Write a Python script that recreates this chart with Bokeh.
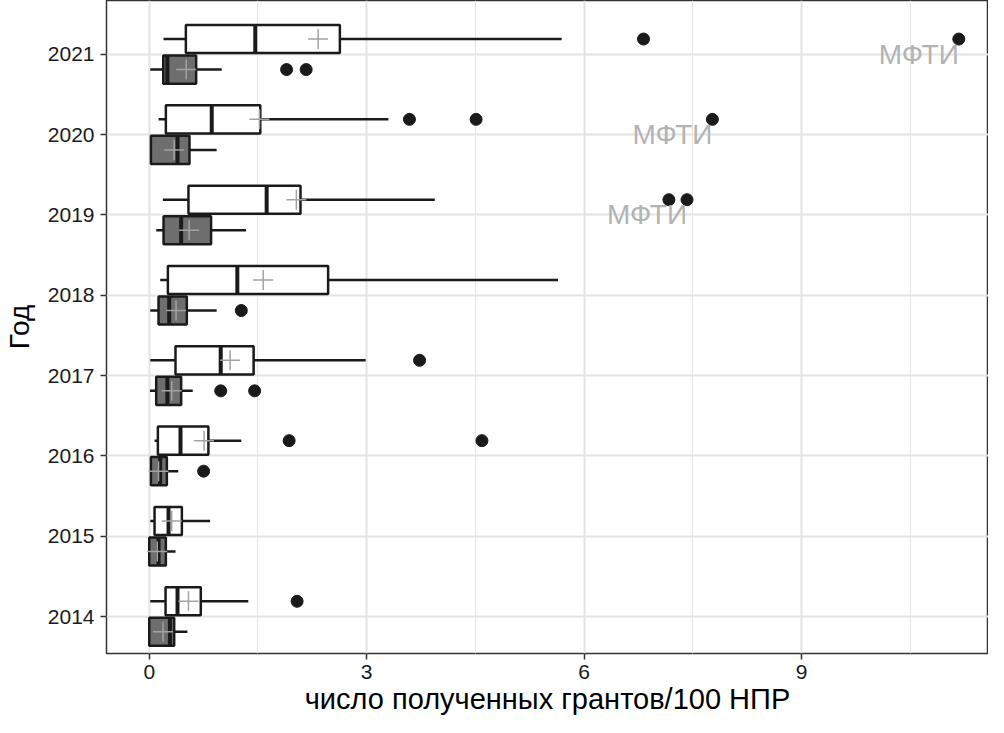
from bokeh.plotting import figure
from bokeh.models import ColumnDataSource, FixedTicker, Range1d
from bokeh.transform import dodge
from bokeh.core.properties import value
from bokeh.embed import file_html
from bokeh.resources import INLINE

years = [2014, 2015, 2016, 2017, 2018, 2019, 2020, 2021]

# group 1 (white boxes)
w_lo   = [0.014, 0.014, 0.073, 0.014, 0.151, 0.188, 0.128, 0.197]
w_q1   = [0.225, 0.073, 0.119, 0.362, 0.257, 0.541, 0.229, 0.505]
w_med  = [0.390, 0.266, 0.431, 0.986, 1.215, 1.620, 0.862, 1.463]
w_q3   = [0.711, 0.450, 0.816, 1.440, 2.468, 2.087, 1.532, 2.630]
w_hi   = [1.367, 0.840, 1.270, 2.986, 5.640, 3.940, 3.300, 5.690]
w_mean = [0.541, 0.310, 0.757, 1.115, 1.573, 2.030, 1.520, 2.330]

# group 2 (grey boxes)
g_lo   = [0.000, 0.000, 0.023, 0.010, 0.014, 0.096, 0.023, 0.014]
g_q1   = [0.000, 0.000, 0.023, 0.096, 0.128, 0.197, 0.023, 0.193]
g_med  = [0.285, 0.128, 0.150, 0.250, 0.275, 0.440, 0.390, 0.250]
g_q3   = [0.344, 0.229, 0.243, 0.440, 0.518, 0.853, 0.555, 0.647]
g_hi   = [0.527, 0.362, 0.400, 0.600, 0.930, 1.335, 0.930, 1.000]
g_mean = [0.190, 0.110, 0.128, 0.310, 0.370, 0.550, 0.344, 0.510]

# outliers
w_out_year = [2014, 2016, 2016, 2017, 2019, 2019, 2020, 2020, 2020, 2021, 2021]
w_out_val  = [2.04, 1.93, 4.59, 3.73, 7.17, 7.42, 3.59, 4.51, 7.77, 6.82, 11.17]
g_out_year = [2016, 2017, 2017, 2018, 2021, 2021]
g_out_val  = [0.75, 0.986, 1.454, 1.27, 1.895, 2.165]

# labels
lab_year = [2021, 2020, 2019]
lab_val  = [11.17, 7.77, 7.42]
lab_text = ["МФТИ", "МФТИ", "МФТИ"]

x_ticks = [0, 3, 6, 9]

FONT = "Liberation Sans"
OFF = 0.19
H = 0.35

p = figure(width=988, height=717, output_backend="svg", toolbar_location=None,
           x_range=Range1d(-0.59, 11.58), y_range=Range1d(2013.54, 2021.67),
           min_border_left=100, min_border_right=0, min_border_top=0,
           min_border_bottom=0)
p.background_fill_color = "white"
p.border_fill_color = "white"
p.outline_line_color = "#333333"
p.outline_line_width = 1.5

def draw(lo, q1, med, q3, hi, mean, off, fill):
    src = ColumnDataSource(dict(year=years, lo=lo, q1=q1, med=med, q3=q3,
                                hi=hi, mean=mean))
    yc = dodge("year", off, range=p.y_range)
    p.segment(x0="lo", x1="q1", y0=yc, y1=yc, source=src,
              line_color="#1a1a1a", line_width=2.5)
    p.segment(x0="q3", x1="hi", y0=yc, y1=yc, source=src,
              line_color="#1a1a1a", line_width=2.5)
    p.hbar(y=yc, height=H, left="q1", right="q3", source=src,
           fill_color=fill, line_color="#1a1a1a", line_width=2.5)
    p.segment(x0="med", x1="med", y0=dodge("year", off - H / 2, range=p.y_range),
              y1=dodge("year", off + H / 2, range=p.y_range), source=src,
              line_color="#1a1a1a", line_width=4)
    p.scatter(x="mean", y=yc, source=src, marker="cross", size=20,
              line_color="#a3a3a3", line_width=1.5)

draw(w_lo, w_q1, w_med, w_q3, w_hi, w_mean, OFF, "white")
draw(g_lo, g_q1, g_med, g_q3, g_hi, g_mean, -OFF, "#6e6e6e")

wo = ColumnDataSource(dict(year=w_out_year, val=w_out_val))
go = ColumnDataSource(dict(year=g_out_year, val=g_out_val))
p.scatter(x="val", y=dodge("year", OFF, range=p.y_range), source=wo, size=12,
          fill_color="#1a1a1a", line_color="#1a1a1a")
p.scatter(x="val", y=dodge("year", -OFF, range=p.y_range), source=go, size=12,
          fill_color="#1a1a1a", line_color="#1a1a1a")

lab = ColumnDataSource(dict(year=lab_year, val=lab_val, text=lab_text))
p.text(x="val", y="year", text="text", source=lab, text_align="right",
       text_baseline="middle", text_font=value(FONT), text_font_size="28px",
       text_color="#b3b3b3")

# axes
p.xaxis.ticker = FixedTicker(ticks=x_ticks, minor_ticks=[1.5, 4.5, 7.5, 10.5])
p.yaxis.ticker = FixedTicker(ticks=years)
for ax in (p.xaxis, p.yaxis):
    ax.axis_line_color = None
    ax.major_tick_line_color = "#333333"
    ax.major_tick_line_width = 1.5
    ax.major_tick_out = 6
    ax.major_tick_in = 0
    ax.minor_tick_line_color = None
    ax.major_label_text_font = FONT
    ax.major_label_text_font_size = "21px"
    ax.major_label_text_color = "#1a1a1a"
    ax.axis_label_text_font = FONT
    ax.axis_label_text_font_style = "normal"
    ax.axis_label_text_color = "#000000"
p.xaxis.axis_label_text_font_size = "29px"
p.yaxis.axis_label_text_font_size = "28px"
p.xaxis.axis_label = "число полученных грантов/100 НПР"
p.yaxis.axis_label = "Год"
p.xaxis.major_label_standoff = 5
p.yaxis.major_label_standoff = 6
p.xaxis.axis_label_standoff = 1
p.yaxis.axis_label_standoff = 10

p.xgrid.grid_line_color = "#e3e3e3"
p.xgrid.grid_line_width = 2
p.xgrid.minor_grid_line_color = "#e6e6e6"
p.xgrid.minor_grid_line_width = 1.2
p.ygrid.grid_line_color = "#e3e3e3"
p.ygrid.grid_line_width = 2

open("out.html", "w").write(file_html(p, INLINE))
